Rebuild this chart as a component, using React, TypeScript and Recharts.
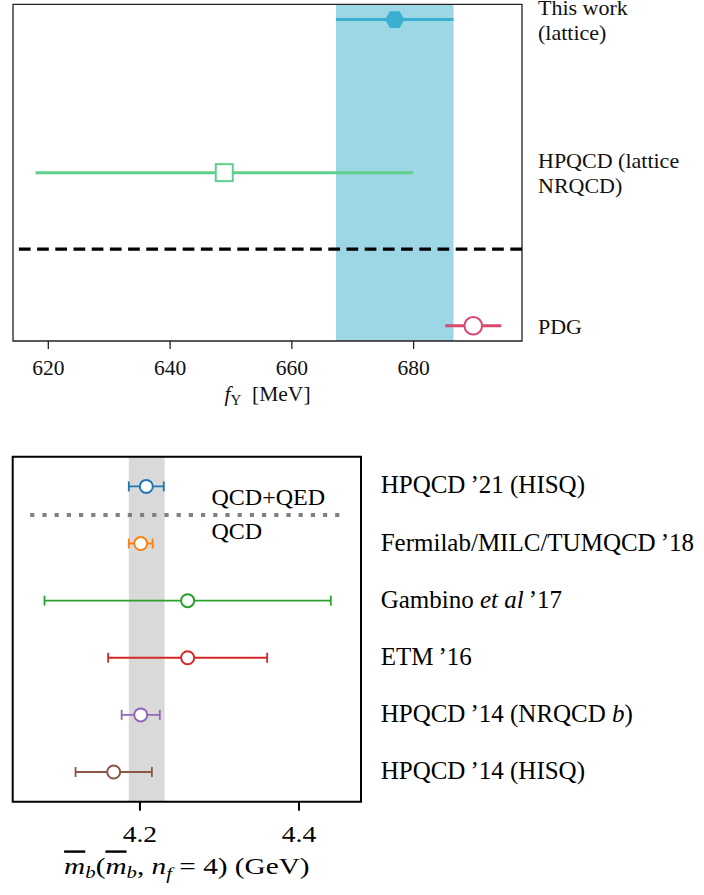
import React from 'react';
import { ScatterChart, Scatter, XAxis, YAxis, ErrorBar, ReferenceArea, ReferenceLine } from 'recharts';

// upper panel: f_Upsilon comparison
const upsLabels = [['This work', '(lattice)'], ['HPQCD (lattice', 'NRQCD)'], ['PDG']];
const upsValues = [676.9, 648.9, 689.8];
const upsErrors = [9.65, 31, 4.6];
const upsRows = [2, 1, 0];
const upsColors = ['#3aafd0', '#5fcf8d', '#d9486f'];
const upsMarkers = ['hexagon', 'square', 'circle'];
const upsBand = [667.25, 686.55];
const upsTicks = [620, 640, 660, 680];
const upsDomain = [614.2, 697.8];
const upsRowDomain = [-0.1, 2.1];
const upsDivider = 0.5;

// lower panel: m_b comparison
const mbLabels = [
  'HPQCD\u2009\u201921 (HISQ)',
  'Fermilab/MILC/TUMQCD\u2009\u201918',
  'Gambino *et al*\u2009\u201917',
  'ETM\u2009\u201916',
  'HPQCD\u2009\u201914 (NRQCD *b*)',
  'HPQCD\u2009\u201914 (HISQ)',
];
const mbValues = [4.208, 4.201, 4.26, 4.26, 4.201, 4.167];
const mbErrors = [0.022, 0.015, 0.18, 0.1, 0.024, 0.048];
const mbRows = [5, 4, 3, 2, 1, 0];
const mbColors = ['#1f77b4', '#ff7f0e', '#2ca02c', '#d62728', '#9467bd', '#8c564b'];
const mbBand = [4.186, 4.231];
const mbTicks = [4.2, 4.4];
const mbDomain = [4.04, 4.478];
const mbRowDomain = [-0.52, 5.52];
const mbDivider = 4.5;
const mbDividerSpan = [4.062, 4.456];
const mbNotes = [
  { x: 4.29, y: 4.68, label: 'QCD+QED' },
  { x: 4.29, y: 4.08, label: 'QCD' },
];

const serif = "'Liberation Serif', 'Times New Roman', serif";
const font = { fontFamily: serif };

const hexPoints = (cx: number, cy: number, r: number) =>
  [0, 60, 120, 180, 240, 300]
    .map((a) => `${cx + r * Math.cos((a * Math.PI) / 180)},${cy + r * Math.sin((a * Math.PI) / 180)}`)
    .join(' ');

const upsMarker = (kind: string, color: string) => (p: any) => {
  if (kind === 'hexagon') return <polygon points={hexPoints(p.cx, p.cy, 9.7)} fill={color} />;
  if (kind === 'square')
    return <rect x={p.cx - 8.5} y={p.cy - 8.5} width={17} height={17} fill="#fff" stroke={color} strokeWidth={2} />;
  return <circle cx={p.cx} cy={p.cy} r={8.8} fill="#fff" stroke={color} strokeWidth={2} />;
};

const mbMarker = (color: string) => (p: any) => (
  <circle cx={p.cx} cy={p.cy} r={6.5} fill="#fff" stroke={color} strokeWidth={2} />
);

const UpsRowTick = (props: any) => {
  const { x, y, payload } = props;
  const lines = upsLabels[upsRows.indexOf(payload.value)] || [];
  const lh = 25;
  const y0 = y - ((lines.length - 1) * lh) / 2 + 8;
  return (
    <text x={x + 16} y={y0} style={font} fontSize={22} fill="#111">
      {lines.map((l, i) => (
        <tspan key={i} x={x + 16} y={y0 + i * lh}>
          {l}
        </tspan>
      ))}
    </text>
  );
};

const MbRowTick = (props: any) => {
  const { x, y, payload } = props;
  const label = mbLabels[mbRows.indexOf(payload.value)] || '';
  return (
    <text x={x + 19.7} y={y + 7} style={font} fontSize={25} fill="#000">
      {label.split('*').map((s, i) => (
        <tspan key={i} fontStyle={i % 2 ? 'italic' : 'normal'}>
          {s}
        </tspan>
      ))}
    </text>
  );
};

const UpsValueTick = (props: any) => {
  const { x, y, payload } = props;
  return (
    <text x={x} y={y + 15.5} textAnchor="middle" style={font} fontSize={21.5} fill="#111">
      {payload.value}
    </text>
  );
};

const MbValueTick = (props: any) => {
  const { x, y, payload } = props;
  return (
    <g transform={`translate(${x},${y}) scale(1.2,1)`}>
      <text x={0} y={16.5} textAnchor="middle" style={font} fontSize={23} fill="#000">
        {payload.value.toFixed(1)}
      </text>
    </g>
  );
};

const UpsTitle = (props: any) => {
  const vb = props.viewBox;
  return (
    <text x={vb.x + vb.width / 2} y={vb.y + 60} textAnchor="middle" style={font} fontSize={21.5} fill="#111">
      <tspan fontStyle="italic">f</tspan>
      <tspan fontSize={15} dy={4}>
        {'\u03a5'}
      </tspan>
      <tspan dy={-4}>{'\u2002[MeV]'}</tspan>
    </text>
  );
};

const MbTitle = (props: any) => {
  const vb = props.viewBox;
  return (
    <g transform={`translate(${vb.x + vb.width / 2},${vb.y + 72}) scale(1.22,1)`}>
      <text x={0} y={0} textAnchor="middle" style={font} fontSize={24} fill="#000">
        <tspan fontStyle="italic" textDecoration="overline">m</tspan>
        <tspan fontStyle="italic" fontSize={17} dy={4}>b</tspan>
        <tspan dy={-4}>(</tspan>
        <tspan fontStyle="italic" textDecoration="overline">m</tspan>
        <tspan fontStyle="italic" fontSize={17} dy={4}>b</tspan>
        <tspan dy={-4}>, </tspan>
        <tspan fontStyle="italic">n</tspan>
        <tspan fontStyle="italic" fontSize={17} dy={5}>f</tspan>
        <tspan dy={-5}>{' = 4) (GeV)'}</tspan>
      </text>
    </g>
  );
};

const NoteText = (p: any) => (
  <text x={p.cx} y={p.cy} style={font} fontSize={24} fill="#000">
    {p.payload.label}
  </text>
);

const UpsilonPanel = () => (
  <ScatterChart width={704} height={420} margin={{ top: 4.3, right: 0, bottom: 0, left: 13 }}>
    <XAxis
      type="number"
      dataKey="x"
      domain={upsDomain}
      ticks={upsTicks}
      allowDataOverflow
      axisLine={false}
      tickSize={8}
      tickMargin={10}
      tickLine={{ stroke: '#222', strokeWidth: 1.3 }}
      tick={UpsValueTick}
      height={79}
      label={UpsTitle}
    />
    <YAxis
      type="number"
      dataKey="y"
      orientation="right"
      domain={upsRowDomain}
      ticks={upsRows}
      allowDataOverflow
      axisLine={false}
      tickLine={false}
      tickSize={0}
      tickMargin={0}
      width={182}
      tick={UpsRowTick}
    />
    <ReferenceArea x1={upsBand[0]} x2={upsBand[1]} fill="#9dd6e4" fillOpacity={1} stroke="none" />
    <ReferenceLine y={upsDivider} stroke="#000" strokeWidth={3.3} strokeDasharray="11.7 6.5" />
    {upsValues.map((v, i) => (
      <Scatter
        key={i}
        data={[{ x: v, y: upsRows[i], err: upsErrors[i] }]}
        shape={upsMarker(upsMarkers[i], upsColors[i])}
        isAnimationActive={false}
      >
        <ErrorBar dataKey="err" direction="x" width={0} stroke={upsColors[i]} strokeWidth={3} />
      </Scatter>
    ))}
    <ReferenceArea
      x1={upsDomain[0]}
      x2={upsDomain[1]}
      y1={upsRowDomain[0]}
      y2={upsRowDomain[1]}
      fill="none"
      stroke="#222"
      strokeWidth={1.3}
    />
  </ScatterChart>
);

const MassPanel = () => (
  <ScatterChart width={704} height={455} margin={{ top: 16.7, right: 0, bottom: 0, left: 12.7 }}>
    <XAxis
      type="number"
      dataKey="x"
      domain={mbDomain}
      ticks={mbTicks}
      allowDataOverflow
      axisLine={false}
      tickSize={9}
      tickMargin={14.7}
      tickLine={{ stroke: '#000', strokeWidth: 2 }}
      tick={MbValueTick}
      height={93.3}
      label={MbTitle}
    />
    <YAxis
      type="number"
      dataKey="y"
      orientation="right"
      domain={mbRowDomain}
      ticks={mbRows}
      allowDataOverflow
      axisLine={false}
      tickLine={false}
      tickSize={0}
      tickMargin={0}
      width={343}
      tick={MbRowTick}
    />
    <ReferenceArea x1={mbBand[0]} x2={mbBand[1]} fill="#d9d9d9" fillOpacity={1} stroke="none" />
    <ReferenceLine
      segment={[
        { x: mbDividerSpan[0], y: mbDivider },
        { x: mbDividerSpan[1], y: mbDivider },
      ]}
      stroke="#808080"
      strokeWidth={4}
      strokeDasharray="4.2 8"
    />
    {mbValues.map((v, i) => (
      <Scatter
        key={i}
        data={[{ x: v, y: mbRows[i], err: mbErrors[i] }]}
        shape={mbMarker(mbColors[i])}
        isAnimationActive={false}
      >
        <ErrorBar dataKey="err" direction="x" width={5} stroke={mbColors[i]} strokeWidth={1.8} />
      </Scatter>
    ))}
    <Scatter data={mbNotes} shape={NoteText} isAnimationActive={false} />
    <ReferenceArea
      x1={mbDomain[0]}
      x2={mbDomain[1]}
      y1={mbRowDomain[0]}
      y2={mbRowDomain[1]}
      fill="none"
      stroke="#000"
      strokeWidth={2}
    />
  </ScatterChart>
);

export default function App() {
  return (
    <div style={{ position: 'absolute', left: 0, top: 0, width: 704, height: 895, background: '#fff', overflow: 'hidden' }}>
      <div style={{ position: 'absolute', left: 0, top: 0 }}>
        <UpsilonPanel />
      </div>
      <div style={{ position: 'absolute', left: 0, top: 440 }}>
        <MassPanel />
      </div>
    </div>
  );
}
